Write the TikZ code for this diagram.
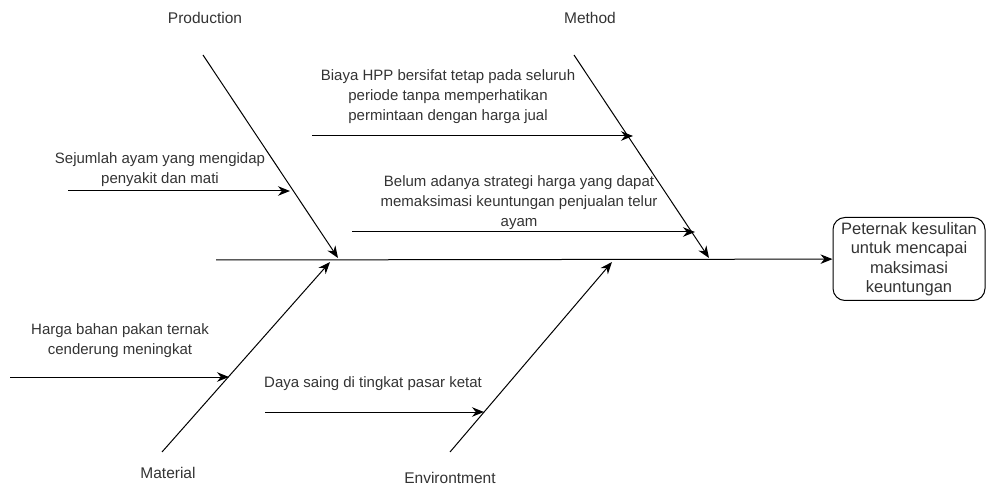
\documentclass[tikz,border=0pt]{standalone}
\usepackage{fontspec}
\setmainfont{Liberation Sans}
\usetikzlibrary{arrows.meta}
\usetikzlibrary{calc}

\definecolor{labelgray}{HTML}{333333}

\tikzset{
  bone/.style={draw=black, line width=1pt, -{Stealth[length=12pt,width=9.5pt]}},
  cause/.style={text=labelgray, align=center, inner sep=0pt, font=\fontsize{15}{20}\selectfont},
  head/.style={text=labelgray, inner sep=0pt, font=\fontsize{15.5}{20}\selectfont},
  effectbox/.style={draw=black, line width=1pt, rounded corners=12pt, minimum width=152pt,
    minimum height=83pt, align=center, text=labelgray, inner sep=0pt, font=\fontsize{16.5}{19.5}\selectfont}
}

\begin{document}
\begin{tikzpicture}[x=1pt,y=-1pt]
\useasboundingbox (0,0) rectangle (988,486);

%head and spine
\node[effectbox] (effect) at (909,259) {Peternak kesulitan\\untuk mencapai\\maksimasi\\keuntungan};
\coordinate (tail) at (216,260);

%upper bones
\coordinate (prodtop) at (203,55);
\coordinate (prodend) at (338,258);
\coordinate (methtop) at (574,55);
\coordinate (methend) at (709,258);

%lower bones
\coordinate (matbot) at (162,452);
\coordinate (matend) at (330,262);
\coordinate (envbot) at (450,452);
\coordinate (envend) at (612,262);

%small arrows
\coordinate (sakits) at (68,191);
\coordinate (sakite) at (290,191);
\coordinate (hpps) at (312,136);
\coordinate (hppe) at (633,136);
\coordinate (stratS) at (352,232);
\coordinate (stratE) at (695,232);
\coordinate (pakans) at (10,377);
\coordinate (pakane) at (229,377);
\coordinate (saings) at (265,412);
\coordinate (sainge) at (484,412);

%category labels
\node[head] (production) at (205,18) {Production};
\node[head] (method) at (590,18) {Method};
\node[head] (material) at (168,473) {Material};
\node[head] (environtment) at (450,478) {Environtment};

%cause labels
\node[cause] (sakit) at (160,170) {Sejumlah ayam yang mengidap\\penyakit dan mati};
\node[cause] (hpp) at (448,97) {Biaya HPP bersifat tetap pada seluruh\\periode tanpa memperhatikan\\permintaan dengan harga jual};
\node[cause] (strategi) at (519,203) {Belum adanya strategi harga yang dapat\\memaksimasi keuntungan penjualan telur\\ayam};
\node[cause] (pakan) at (120,341) {Harga bahan pakan ternak\\cenderung meningkat};
\node[cause] (saing) at (373,384) {Daya saing di tingkat pasar ketat};

\draw[bone] (tail)--(effect);
\draw[bone] (prodtop)--(prodend);
\draw[bone] (methtop)--(methend);
\draw[bone] (matbot)--(matend);
\draw[bone] (envbot)--(envend);

\draw[bone] (sakits)--(sakite);
\draw[bone] (hpps)--(hppe);
\draw[bone] (stratS)--(stratE);
\draw[bone] (pakans)--(pakane);
\draw[bone] (saings)--(sainge);
\end{tikzpicture}
\end{document}
